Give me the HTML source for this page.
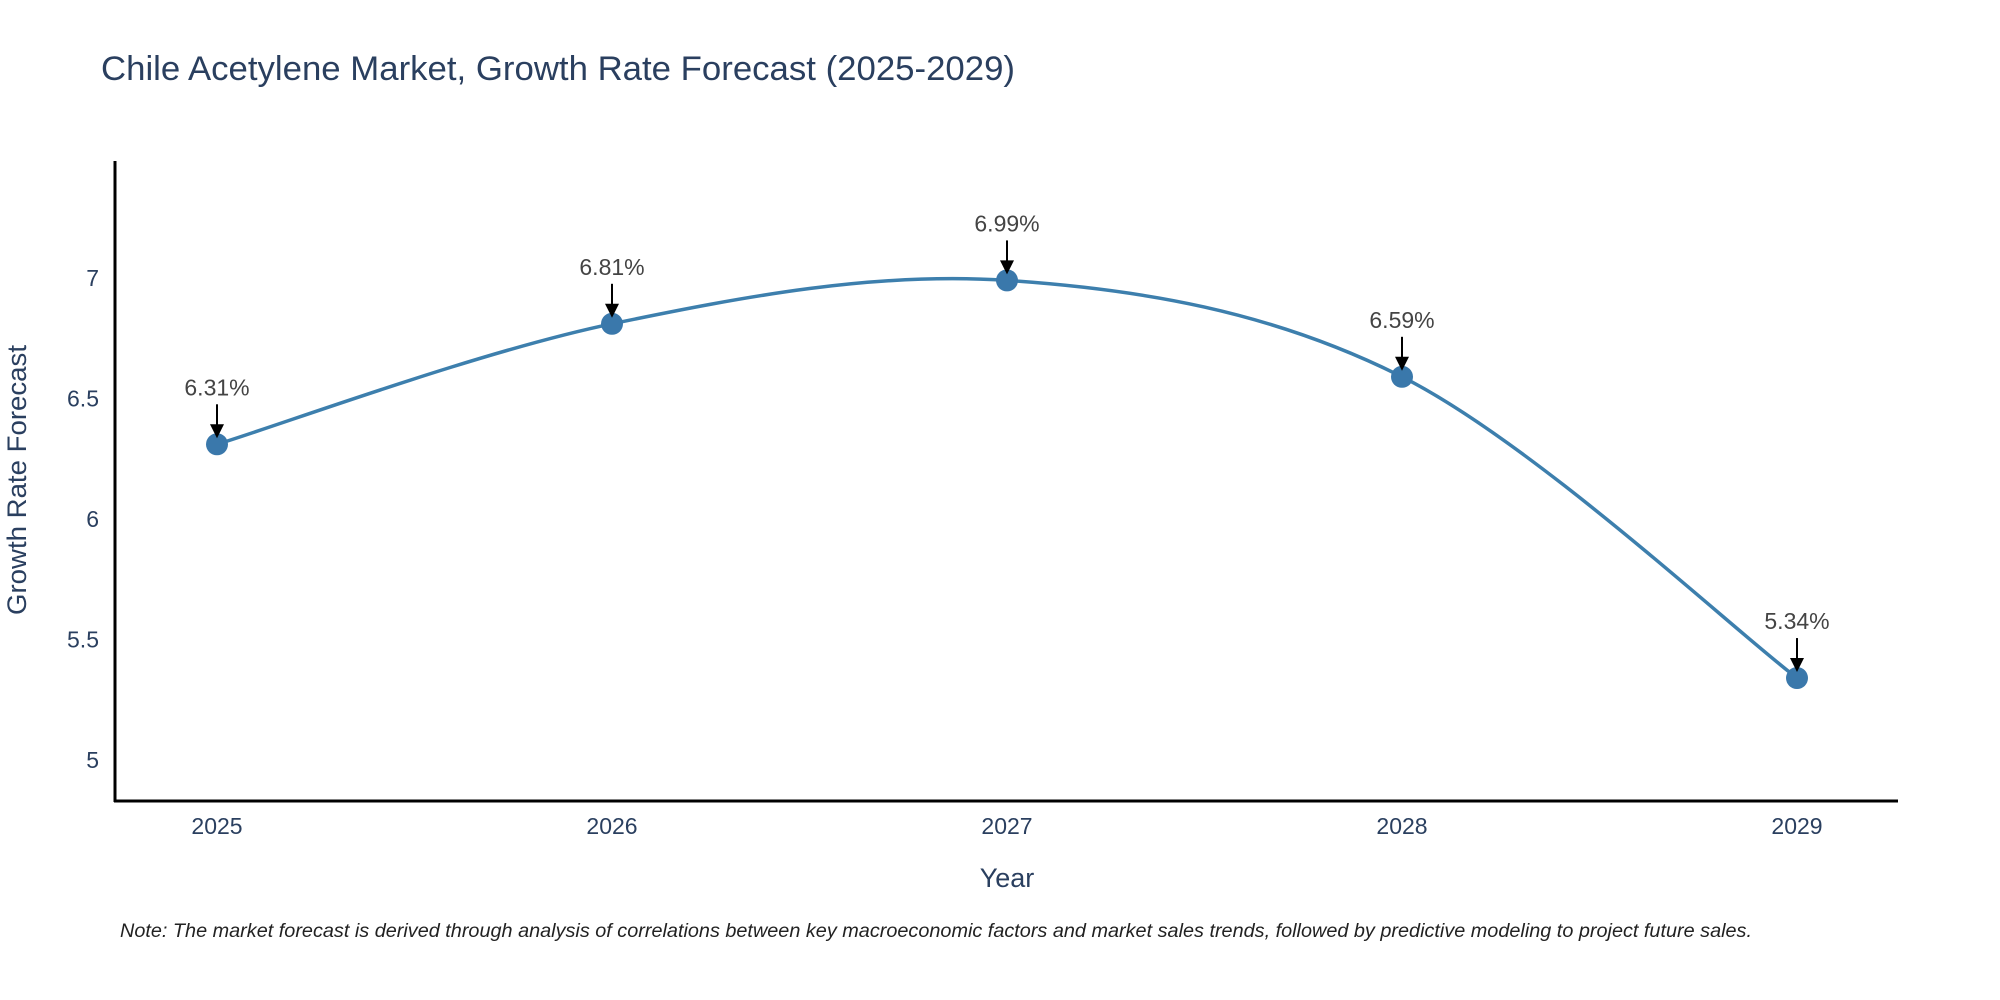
<!DOCTYPE html>
<html><head><meta charset="utf-8"><style>
html,body{margin:0;padding:0;background:#fff;}
svg{display:block;font-family:"Liberation Sans","DejaVu Sans",sans-serif;}
</style></head><body>
<svg id="chart" width="2000" height="1000" viewBox="0 0 2000 1000">
<text x="101" y="80" font-size="34" fill="#2a3f5f" textLength="914" lengthAdjust="spacingAndGlyphs">Chile Acetylene Market, Growth Rate Forecast (2025-2029)</text>
<g id="yticks"></g>
<g id="xticks"></g>
<line x1="115" y1="161" x2="115" y2="802" stroke="#000" stroke-width="3"/>
<line x1="114" y1="801" x2="1898" y2="801" stroke="#000" stroke-width="3"/>
<text x="26" y="480" font-size="27" fill="#2a3f5f" text-anchor="middle" transform="rotate(-90 26 480)" textLength="270" lengthAdjust="spacingAndGlyphs">Growth Rate Forecast</text>
<text x="1007" y="887" font-size="27" fill="#2a3f5f" text-anchor="middle">Year</text>
<g id="series"></g>
<text x="120" y="937" font-size="19" font-style="italic" fill="#222" textLength="1632" lengthAdjust="spacingAndGlyphs">Note: The market forecast is derived through analysis of correlations between key macroeconomic factors and market sales trends, followed by predictive modeling to project future sales.</text>
</svg>
<script>
const years = [2025, 2026, 2027, 2028, 2029];
const values = [6.31, 6.81, 6.99, 6.59, 5.34];
const labels = ["6.31%", "6.81%", "6.99%", "6.59%", "5.34%"];
const yTicks = [5, 5.5, 6, 6.5, 7];
const yTickLabels = ["5", "5.5", "6", "6.5", "7"];

const NS = "http://www.w3.org/2000/svg";
const xS = v => 217 + (v - 2025) * 395;
const yS = v => 760 - (v - 5) * 241;
function mk(tag, attrs, parent){const e=document.createElementNS(NS,tag);for(const k in attrs)e.setAttribute(k,attrs[k]);parent.appendChild(e);return e;}

const yt=document.getElementById('yticks');
yTicks.forEach((t,i)=>{
  const e=mk('text',{x:99,y:yS(t)+8,'font-size':23,fill:'#2a3f5f','text-anchor':'end'},yt);
  e.textContent=yTickLabels[i];
  
  
});
const xt=document.getElementById('xticks');
years.forEach(y=>{
  const e=mk('text',{x:xS(y),y:834,'font-size':23,fill:'#2a3f5f','text-anchor':'middle'},xt);
  e.textContent=String(y);
  
  
});

const g=document.getElementById('series');
const pts=years.map((y,i)=>[xS(y),yS(values[i])]);
let d='M'+pts[0][0]+','+pts[0][1];
const s=1/6;
for(let i=0;i<pts.length-1;i++){
  const p0=pts[Math.max(0,i-1)],p1=pts[i],p2=pts[i+1],p3=pts[Math.min(pts.length-1,i+2)];
  const c1=[p1[0]+(p2[0]-p0[0])*s,p1[1]+(p2[1]-p0[1])*s];
  const c2=[p2[0]-(p3[0]-p1[0])*s,p2[1]-(p3[1]-p1[1])*s];
  d+=` C${c1[0]},${c1[1]} ${c2[0]},${c2[1]} ${p2[0]},${p2[1]}`;
}
const line=mk('path',{d:d,fill:'none',stroke:'#3d7fad','stroke-width':3.5},g);



pts.forEach((p,i)=>{
  const c=mk('circle',{cx:p[0],cy:p[1],r:11,fill:'#3a78ab'},g);
  
  
  const a=mk('line',{x1:p[0],y1:p[1]-40,x2:p[0],y2:p[1]-16,stroke:'#000','stroke-width':2},g);
  
  
  const h=mk('path',{d:`M${p[0]-7},${p[1]-20} L${p[0]+7},${p[1]-20} L${p[0]},${p[1]-6} Z`,fill:'#000'},g);
  
  
  const t=mk('text',{x:p[0],y:p[1]-49,'font-size':23,fill:'#444','text-anchor':'middle'},g);
  t.textContent=labels[i];
  
  
});
</script>
</body></html>
